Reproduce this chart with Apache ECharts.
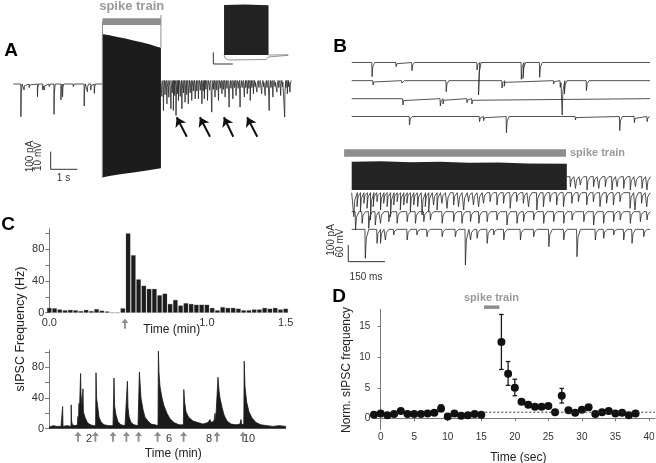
<!DOCTYPE html>
<html><head><meta charset="utf-8">
<script src="https://cdn.jsdelivr.net/npm/echarts@6/dist/echarts.min.js"></script>
<style>html,body{margin:0;padding:0;background:#fff}#c{width:656px;height:463px}</style>
</head><body><div id="c"></div>
<script>
// ================= DATA =================
// Panel A: whole-cell trace. Events as [time (s), amplitude (pA, downward)]
const aPreEvents = [[0.28,185],[0.40,34],[0.59,20],[0.9,72],[1.1,34],[1.16,34],[1.34,15],[1.52,171],[1.78,90],[1.84,72],[2.24,15],[2.65,124],[2.77,44],[2.9,34],[3.03,53]];
const aPostEvents = [[5.56,90],[5.62,170],[5.68,80],[5.75,132],[5.82,95],[5.9,160],[5.95,70],[5.99,170],[6.04,85],[6.09,198],[6.14,75],[6.18,113],[6.25,90],[6.31,160],[6.37,70],[6.43,123],[6.49,80],[6.55,132],[6.62,70],[6.68,113],[6.74,60],[6.81,104],[6.87,60],[6.93,104],[7.0,55],[7.06,132],[7.11,60],[7.15,104],[7.21,50],[7.27,113],[7.35,55],[7.43,179],[7.49,50],[7.55,94],[7.62,55],[7.68,113],[7.75,45],[7.81,75],[7.87,50],[7.93,94],[8.0,45],[8.08,151],[8.15,45],[8.22,104],[8.28,40],[8.34,85],[8.42,45],[8.49,151],[8.57,40],[8.65,94],[8.7,40],[8.76,75],[8.82,45],[8.87,113],[8.93,40],[8.99,75],[9.05,35],[9.12,66],[9.2,40],[9.3,75],[9.37,35],[9.43,85],[9.5,40],[9.58,170],[9.65,40],[9.72,94],[9.8,35],[9.87,66],[9.94,40],[10.01,85],[10.08,35],[10.16,207],[10.21,40],[10.26,75],[10.31,35],[10.36,66]];
const aTrainTop = [[3.32,283],[3.6,275],[3.9,266],[4.2,257],[4.5,246],[4.8,236],[5.1,224],[5.35,212],[5.53,205]];
const aTrainBottom = [[3.32,-528],[3.6,-520],[4.0,-510],[4.5,-500],[5.0,-489],[5.53,-476]];
const aTrainWindow = [3.34, 5.53];     // s
const aArrowTimes = [[6.50,6.12],[7.37,6.99],[8.24,7.89],[9.14,8.76]]; // [tail, tip] s
const aArrowAmp = [-298,-188];          // pA [tail, tip]

// Panel A inset (arbitrary units)
const insetBlockTop = [[13.8,96.8],[40,97.5],[69.4,96.5]];
const insetBlockBottom = [[13.8,16.1],[69.4,16.1]];
const insetOutline = [[13.8,16.1],[15.1,11.3],[18.8,8.1],[66.5,8.9],[69,12.9],[94.1,15.6]];
const insetBaseline = [[69.4,16.1],[94.1,16.5]];

// Panel B: events as [time (ms), amplitude (pA)]
const bTopTraces = [
  [[82,85],[180,25],[245,49],[511,45],[517,195],[692,101],[699,95],[767,89]],
  [[86,26],[204,14],[304,10],[385,66],[613,44],[622,34],[824,20],[851,40],[859,206],[868,80],[958,60]],
  [[208,38],[361,44],[372,32],[470,24],[490,32]],
  [[235,51],[521,31],[538,25],[631,97],[913,21],[1094,85],[1154,37],[1206,31]]
];
const bBottomTraces = [
  [[892,60],[913,70],[933,50],[960,80],[987,60],[1008,70],[1035,60],[1062,80],[1083,60],[1110,70],[1137,80],[1158,60],[1185,70],[1205,80]],
  [[7,144],[20,84],[34,114],[48,64],[61,94],[75,164],[86,84],[102,54],[116,104],[129,64],[143,84],[157,144],[170,74],[184,54],[197,104],[211,74],[224,64],[238,114],[252,74],[268,84],[286,134],[299,84],[313,114],[333,74],[347,104],[367,64],[388,94],[415,74],[435,84],[456,104],[476,54],[496,74],[517,84],[537,64],[564,54],[592,74],[619,64],[646,94],[673,54],[700,64],[721,84],[755,104],[782,84],[809,54],[836,74],[864,84],[898,64],[925,54],[959,74],[986,54],[1013,84],[1040,64],[1068,74],[1095,54],[1136,94],[1156,104],[1183,64],[1204,84]],
  [[14,110],[41,70],[68,100],[95,80],[116,70],[150,60],[184,70],[225,60],[259,70],[293,60],[320,50],[368,70],[415,60],[449,70],[484,60],[518,70],[552,60],[592,50],[633,80],[674,70],[701,60],[742,50],[783,70],[824,60],[865,70],[899,50],[947,60],[987,80],[1028,70],[1069,60],[1096,50],[1137,70],[1178,60],[1205,50]],
  [[54,174],[102,84],[116,84],[136,64],[170,34],[225,64],[265,34],[306,44],[368,44],[422,44],[463,214],[484,64],[511,54],[552,84],[579,34],[620,64],[688,64],[742,44],[804,104],[865,64],[919,164],[994,64],[1028,54],[1069,34],[1110,64],[1144,84],[1192,44]]
];
const bTrainTop = [[0,710],[120,712],[240,706],[360,709],[480,703],[600,705],[720,699],[879,697]];
const bTrainBottom = [[0,540],[879,540]];
const bTrainWindow = [-31, 876];   // ms

// Panel C top: sIPSC frequency histogram, 2 s bins centred at 0,2,...,90 s
const cTopBinSec = 2;
const cTopHz = [6,5.5,4,3,3.5,3,2,3.5,2,4.5,2.5,1.5,0,0,5.5,100,72.5,42,34,30,30,22,24,11,16,9,12,11,10,10,10,6,3,7,6,6,5,3,3,4,4,6,5,6,4,5];
const cTopStim = [0.48];
const cTopXLabels = [0, 1.0, 1.5];
const cYTicks = [0,20,40,60,80,100];
const cYLabels = [0,40,80];

// Panel C bottom: frequency over 12 min, [time (min), Hz]
const cBottomHz = [[0,2],[0.2,4],[0.4,3],[0.6,3],[0.67,3],[0.68,29],[0.70,3],[0.9,4],[1.1,3],[1.11,31],[1.13,10],[1.17,5],[1.3,4],[1.42,5],[1.45,16],[1.47,8],[1.5,33],[1.52,20],[1.57,22],[1.58,72],[1.6,45],[1.65,30],[1.7,52],[1.72,22],[1.8,15],[1.9,9],[2.0,6],[2.1,5],[2.2,4],[2.33,4],[2.35,73],[2.38,40],[2.43,30],[2.5,15],[2.6,9],[2.75,5],[3.0,4],[3.2,4],[3.25,66],[3.28,30],[3.35,18],[3.45,9],[3.6,5],[3.8,4],[3.9,4],[3.92,62],[3.95,28],[4.0,16],[4.1,8],[4.25,5],[4.45,4],[4.52,74],[4.56,57],[4.6,40],[4.7,25],[4.8,15],[4.95,10],[5.1,6],[5.3,5],[5.45,4],[5.47,101],[5.5,73],[5.55,55],[5.65,40],[5.75,30],[5.9,20],[6.05,13],[6.25,8],[6.5,5],[6.72,5],[6.74,51],[6.78,35],[6.85,22],[6.98,15],[7.2,10],[7.45,8],[7.7,6],[7.95,8],[8.05,12],[8.1,8],[8.25,10],[8.3,20],[8.33,8],[8.43,8],[8.45,67],[8.5,50],[8.55,40],[8.65,28],[8.75,18],[8.9,10],[9.1,6],[9.35,5],[9.55,6],[9.6,12],[9.63,5],[9.74,6],[9.76,88],[9.8,55],[9.88,35],[10.0,22],[10.15,14],[10.35,8],[10.6,5],[10.9,4],[11.2,3],[11.5,4],[11.85,3]];
const cBottomStim = [1.45,2.32,3.2,3.87,4.48,5.43,6.73,8.4,9.7];
const cBottomXLabels = [2,6,8,10];

// Panel D: normalized sIPSC frequency
const dTime = [-1,0,1,2,3,4,5,6,7,8,9,10,11,12,13,14,15,18,19,20,21,22,23,24,25,26,27,28,29,30,31,32,33,34,35,36,37,38];
const dNorm = [0.6,0.8,0.5,0.7,1.2,0.7,0.7,0.7,0.8,0.9,1.6,0.3,0.8,0.4,0.5,0.7,0.6,12.5,7.3,5.0,2.7,2.2,1.9,1.9,2.0,1.0,3.7,1.3,0.9,1.4,1.8,0.7,1.0,1.2,0.8,0.9,0.5,0.8];
const dErr = [[9,1.1,2.2],[18,8.0,17.0],[19,5.4,9.3],[20,3.7,6.4],[27,2.5,4.9],[31,1.3,2.2]];
const dTrain = [15.4, 17.7];
const dBaseline = 1;
const dBaselineFrom = 15;
const dXTicks = [0,5,10,15,20,25,30,35,40];
const dYTicks = [0,5,10,15];

// ================= BUILD =================
const FONT = '"Liberation Sans", Arial, sans-serif';
const TRACE = '#262626';
const GRAY = '#8e8e8e';

function trace(events, base, t0, t1, w) {
  const ev = events.slice().sort((a,b)=>a[0]-b[0]);
  const pts = [[t0, base]];
  for (const [t,a] of ev) {
    pts.push([t, base]);
    pts.push([t + w*0.1, base - a]);
    pts.push([t + w*0.35, base - a*0.3]);
    pts.push([t + w, base]);
  }
  pts.push([t1, base]);
  return pts;
}
function lineS(xi, data, color, width, extra) {
  return Object.assign({type:'line', xAxisIndex:xi, yAxisIndex:xi, data, showSymbol:false, symbol:'none',
    lineStyle:{color, width}, clip:false, silent:true, animation:false}, extra||{});
}
function segs(xi, paths, color, width, extra) {
  return Object.assign({type:'lines', coordinateSystem:'cartesian2d', xAxisIndex:xi, yAxisIndex:xi, polyline:true,
    data: paths.map(c=>({coords:c})), lineStyle:{color, width, opacity:1}, silent:true, clip:false, animation:false}, extra||{});
}
function poly(xi, top, bottom, color) {
  const pts = top.concat(bottom.slice().reverse());
  return {type:'custom', xAxisIndex:xi, yAxisIndex:xi, data:[pts[0]], clip:false, silent:true, animation:false,
    renderItem:(p, api)=>({type:'polygon', shape:{points: pts.map(v=>api.coord(v))}, style:{fill:color}})};
}
function scaleBar(xi, x, y, dx, dy) { return segs(xi, [[[x, y+dy],[x, y],[x+dx, y]]], '#333', 1); }

const hidden = (gi, min, max) => ({gridIndex:gi, type:'value', min, max, show:false});

const grids = [
  {left:13.3, top:10, width:278.7, height:170},     // 0 A
  {left:213, top:3, width:80, height:62},           // 1 A inset
  {left:351.7, top:40, width:298.3, height:100},    // 2 B top
  {left:351.7, top:150, width:298.3, height:130},   // 3 B bottom
  {left:49.3, top:228.7, width:236.4, height:84},   // 4 C top
  {left:49, top:350, width:237, height:78.7},       // 5 C bottom
  {left:373.3, top:309.3, width:281.7, height:120}  // 6 D
].map(g=>Object.assign({containLabel:false, outerBoundsMode:'none'}, g));

const axLine = {show:true, lineStyle:{color:'#7a7a7a', width:1}};
const lab = (vals, size, margin, fmt) => ({show:true, customValues:vals, color:'#333', fontSize:size, fontFamily:FONT, margin, formatter:fmt});

const xAxis = [
  hidden(0, 0, 10.44), hidden(1, 0, 100), hidden(2, 0, 1219), hidden(3, 0, 1219),
  {gridIndex:4, type:'value', min:0, max:1.5, axisLine:{show:false}, axisTick:{show:false}, splitLine:{show:false},
    axisLabel: lab(cTopXLabels, 11, 5, v=>v.toFixed(1))},
  {gridIndex:5, type:'value', min:0, max:11.85, axisLine:{show:false}, axisTick:{show:false}, splitLine:{show:false},
    axisLabel: lab(cBottomXLabels, 11, 5)},
  {gridIndex:6, type:'value', min:-1.1, max:40.9, axisLine:axLine, splitLine:{show:false},
    axisTick:{show:true, customValues:dXTicks, length:3, lineStyle:{color:'#7a7a7a'}},
    axisLabel: lab(dXTicks, 10, 3)}
];
const yAxis = [
  hidden(0, -542.4, 418.1), hidden(1, 0, 100), hidden(2, 0, 600), hidden(3, 0, 780),
  {gridIndex:4, type:'value', min:0, max:106, axisLine:axLine, splitLine:{show:false},
    axisTick:{show:true, customValues:cYTicks, length:4, lineStyle:{color:'#7a7a7a'}}, axisLabel: lab(cYLabels, 11, 5)},
  {gridIndex:5, type:'value', min:0, max:102.6, axisLine:axLine, splitLine:{show:false},
    axisTick:{show:true, customValues:cYTicks, length:4, lineStyle:{color:'#7a7a7a'}}, axisLabel: lab(cYLabels, 11, 5)},
  {gridIndex:6, type:'value', min:-1.8, max:17.85, axisLine:axLine, splitLine:{show:false},
    axisTick:{show:true, customValues:dYTicks, length:3, lineStyle:{color:'#7a7a7a'}}, axisLabel: lab(dYTicks, 10, 3)}
];

const upArrow = 'path://M5 0 L10 6 L6.3 6 L6.3 14 L3.7 14 L3.7 6 L0 6 Z';
const series = [];

// ---- Panel A ----
const aPostBase = 20;
series.push(lineS(0, trace(aPreEvents, 0, 0, aTrainTop[0][0], 0.05), TRACE, 0.8));
series.push(lineS(0, trace(aPostEvents, aPostBase, aTrainTop[aTrainTop.length-1][0], 10.42, 0.05), TRACE, 0.8));
series.push(poly(0, aTrainTop, aTrainBottom, '#1c1c1c'));
series.push(segs(0, [[[aTrainWindow[0], 352],[aTrainWindow[0], -528]], [[aTrainWindow[1], 390],[aTrainWindow[1], 205]]], GRAY, 1));
series.push(segs(0, [[[aTrainWindow[0], 352],[aTrainWindow[1], 352]]], GRAY, 6.7));
series.push(Object.assign(segs(0, aArrowTimes.map(([t0,t1])=>[[t0, aArrowAmp[0]],[t1, aArrowAmp[1]]]), '#111', 2),
  {polyline:false, symbol:['none','arrow'], symbolSize:[9,9]}));
series.push(scaleBar(0, 1.4, -482, 1, 100));
// inset
series.push(poly(1, insetBlockTop, insetBlockBottom, '#222'));
series.push(lineS(1, insetOutline, '#777', 0.8));
series.push(lineS(1, insetBaseline, '#777', 0.8));
series.push(scaleBar(1, 0.4, 1.6, 24.3, 18.9));

// ---- Panel B ----
const bTopBase = [465, 356, 248, 141];
const bBotBase = [620, 524, 410, 304];
bTopTraces.forEach((ev,i)=>series.push(lineS(2, trace(ev, bTopBase[i], 0, 1219, 12), TRACE, 0.8)));
series.push(poly(3, bTrainTop, bTrainBottom, '#242424'));
series.push(lineS(3, trace(bBottomTraces[0], bBotBase[0], bTrainTop[bTrainTop.length-1][0], 1219, 16), TRACE, 0.8));
for (let i=1;i<4;i++) series.push(lineS(3, trace(bBottomTraces[i], bBotBase[i], 0, 1219, 16), TRACE, 0.8));
series.push(segs(3, [[[bTrainWindow[0], 762],[bTrainWindow[1], 762]]], GRAY, 7.4));
series.push(scaleBar(3, -14, 110, 150, 100));

// ---- Panel C ----
series.push({type:'bar', xAxisIndex:4, yAxisIndex:4, data: cTopHz.map((v,i)=>[i*cTopBinSec/60, v]),
  barWidth:4.5, itemStyle:{color:'#1c1c1c', borderColor:'#666', borderWidth:0.3, opacity:1}, silent:true, animation:false});
series.push({type:'scatter', xAxisIndex:4, yAxisIndex:4, data: cTopStim.map(t=>[t,0]), symbol:upArrow,
  symbolSize:[7,10], symbolOffset:[0,11], itemStyle:{color:GRAY, opacity:1}, silent:true, animation:false, clip:false});
series.push(lineS(5, cBottomHz, '#1a1a1a', 0.8, {areaStyle:{color:'#1a1a1a', opacity:1}}));
series.push({type:'scatter', xAxisIndex:5, yAxisIndex:5, data: cBottomStim.map(t=>[t,0]), symbol:upArrow,
  symbolSize:[7,10], symbolOffset:[0,8], itemStyle:{color:GRAY, opacity:1}, silent:true, animation:false, clip:false});

// ---- Panel D ----
series.push(lineS(6, [[dBaselineFrom, dBaseline],[40.9, dBaseline]], '#333', 1, {lineStyle:{color:'#333', width:1, type:[2,2]}}));
series.push(segs(6, [[[dTrain[0], 18.2],[dTrain[1], 18.2]]], GRAY, 3.5));
series.push({type:'custom', xAxisIndex:6, yAxisIndex:6, data:dErr, clip:false, silent:true, animation:false,
  renderItem:(p, api)=>{
    const x = api.value(0), a = api.coord([x, api.value(1)]), b = api.coord([x, api.value(2)]);
    const st = {stroke:'#1a1a1a', lineWidth:1.3};
    return {type:'group', children:[
      {type:'line', shape:{x1:a[0], y1:a[1], x2:b[0], y2:b[1]}, style:st},
      {type:'line', shape:{x1:a[0]-2.3, y1:a[1], x2:a[0]+2.3, y2:a[1]}, style:st},
      {type:'line', shape:{x1:b[0]-2.3, y1:b[1], x2:b[0]+2.3, y2:b[1]}, style:st}
    ]};
  }});
series.push({type:'scatter', xAxisIndex:6, yAxisIndex:6, data: dTime.map((t,i)=>[t, dNorm[i]]),
  symbol:'circle', symbolSize:8, itemStyle:{color:'#111', opacity:1}, silent:true, animation:false, clip:false});

// ---- Text annotations ----
const txt = (text, x, y, font, fill, extra, align) => Object.assign({type:'text', x, y, silent:true,
  style:{text, font, fill, textAlign:align||'center', textVerticalAlign:'middle'}}, extra||{});
const bold = s => 'bold ' + s + 'px ' + FONT;
const reg = s => s + 'px ' + FONT;
const graphic = [
  txt('A', 11, 51, bold(19), '#000'),
  txt('B', 340, 47, bold(19), '#000'),
  txt('C', 8, 225, bold(19), '#000'),
  txt('D', 339, 297, bold(19), '#000'),
  txt('spike train', 131.7, 6.5, bold(13), '#999'),
  txt('spike train', 570, 153, bold(11), '#999', null, 'left'),
  txt('spike train', 491.5, 297.5, bold(11), '#999'),
  txt('100 pA', 30, 156.5, reg(10), '#333', {rotation:Math.PI/2}),
  txt('10 mV', 38.5, 156.5, reg(10), '#333', {rotation:Math.PI/2}),
  txt('1 s', 63.5, 178.5, reg(10), '#333'),
  txt('100 pA', 331, 240, reg(10), '#333', {rotation:Math.PI/2}),
  txt('60 mV', 340.5, 243, reg(10), '#333', {rotation:Math.PI/2}),
  txt('150 ms', 366, 277, reg(10), '#333'),
  txt('Time (min)', 171.7, 329.5, reg(12), '#222'),
  txt('Time (min)', 173.3, 454, reg(12), '#222'),
  txt('sIPSC Frequency (Hz)', 20.5, 329, reg(12.5), '#222', {rotation:Math.PI/2}),
  txt('Time (sec)', 518.3, 457.7, reg(12), '#222'),
  txt('Norm. sIPSC frequency', 346.7, 370, reg(12), '#222', {rotation:Math.PI/2})
];

const chart = echarts.init(document.getElementById('c'), null, {renderer:'canvas', width:656, height:463});
chart.setOption({animation:false, backgroundColor:'#fff', grid:grids, xAxis, yAxis, series, graphic});
</script>
</body></html>
